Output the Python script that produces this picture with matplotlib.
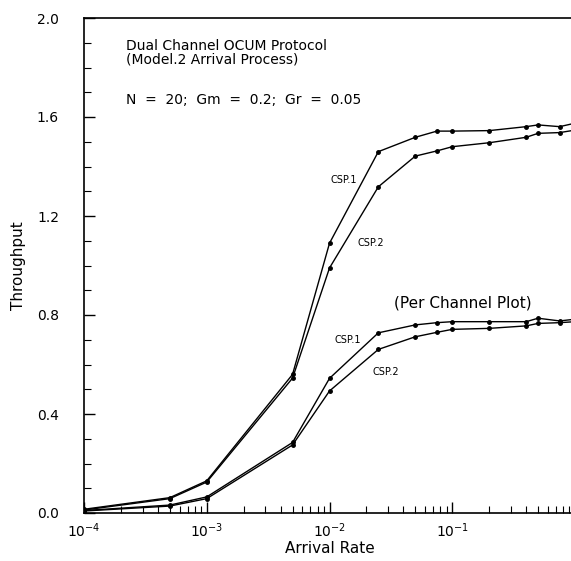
import matplotlib
matplotlib.use("Agg")
import matplotlib.pyplot as plt
import matplotlib.ticker as mticker

# arrival rates
rate = [1e-4, 5e-4, 1e-3, 5e-3, 1e-2, 2.5e-2, 5e-2, 7.5e-2, 1e-1, 2e-1, 4e-1, 5e-1, 7.5e-1, 1.0]

# total throughput
tot_csp1 = [0.015, 0.062, 0.13, 0.56, 1.09, 1.46, 1.518, 1.543, 1.543, 1.545, 1.561, 1.568, 1.561, 1.575]
tot_csp2 = [0.012, 0.058, 0.125, 0.545, 0.99, 1.318, 1.442, 1.463, 1.48, 1.496, 1.518, 1.534, 1.537, 1.547]

# per channel throughput
ch_csp1 = [0.01, 0.032, 0.065, 0.285, 0.544, 0.728, 0.76, 0.769, 0.773, 0.773, 0.773, 0.787, 0.776, 0.783]
ch_csp2 = [0.008, 0.028, 0.058, 0.275, 0.493, 0.661, 0.712, 0.73, 0.742, 0.746, 0.756, 0.766, 0.769, 0.773]

fig = plt.figure(figsize=(5.71, 5.61), dpi=100)
ax = fig.add_axes([84/571, 48/561, 491/571, 495/561])

for y in [tot_csp1, tot_csp2, ch_csp1, ch_csp2]:
    ax.plot(rate, y, color="black", lw=1.0, marker="o", ms=2.5)

ax.set_xscale("log")
ax.set_xlim(1e-4, 1.0)
ax.set_ylim(0.0, 2.0)
ax.set_yticks([0.0, 0.4, 0.8, 1.2, 1.6, 2.0])
ax.yaxis.set_major_formatter(mticker.FormatStrFormatter("%.1f"))
ax.yaxis.set_minor_locator(mticker.MultipleLocator(0.1))
ax.set_xticks([1e-4, 1e-3, 1e-2, 1e-1, 1.0])
ax.set_xticklabels([r"$10^{-4}$", r"$10^{-3}$", r"$10^{-2}$", r"$10^{-1}$", "1"])
ax.xaxis.set_minor_locator(mticker.LogLocator(base=10, subs=range(2, 10)))
ax.xaxis.set_minor_formatter(mticker.NullFormatter())

ax.tick_params(which="major", direction="in", length=8, width=1, labelsize=10, pad=6)
ax.tick_params(which="minor", direction="in", length=5, width=0.8)
ax.tick_params(axis="y", which="major", pad=18)
ax.spines["right"].set_visible(False)
for s in ["left", "bottom", "top"]:
    ax.spines[s].set_linewidth(1.2)

ax.set_xlabel("Arrival Rate", fontsize=11, labelpad=1)
ax.set_ylabel("Throughput", fontsize=11, labelpad=8)

ax.text(2.2e-4, 1.86, "Dual Channel OCUM Protocol\n(Model.2 Arrival Process)",
        fontsize=10, va="center", linespacing=1.0)
ax.text(2.2e-4, 1.667, "N  =  20;  Gm  =  0.2;  Gr  =  0.05", fontsize=10, va="center")
ax.text(1.3e-2, 1.345, "CSP.1", fontsize=7, ha="center", va="center")
ax.text(2.16e-2, 1.09, "CSP.2", fontsize=7, ha="center", va="center")
ax.text(0.122, 0.848, "(Per Channel Plot)", fontsize=11, ha="center", va="center")
ax.text(1.4e-2, 0.70, "CSP.1", fontsize=7, ha="center", va="center")
ax.text(2.87e-2, 0.57, "CSP.2", fontsize=7, ha="center", va="center")

fig.savefig("out.png", dpi=100)
